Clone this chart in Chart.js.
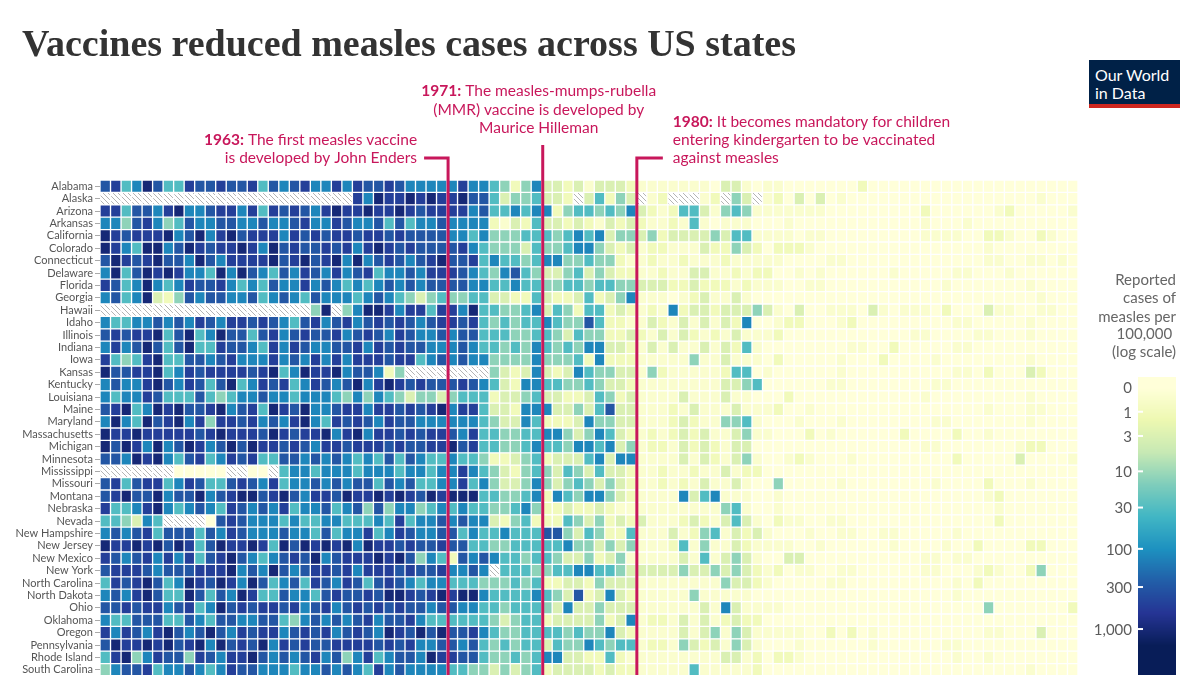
<!DOCTYPE html>
<html>
<head>
<meta charset="utf-8">
<script src="https://cdn.jsdelivr.net/npm/chart.js@4.4.1/dist/chart.umd.min.js"></script>
<style>
  html, body { margin: 0; padding: 0; background: #fff; overflow: hidden; }
  #wrap { position: relative; width: 1200px; height: 675px; overflow: hidden; }
  #chart { position: absolute; left: 0; top: 0; }
  #title {
    position: absolute; left: 22px; top: 22px; white-space: nowrap;
    font-family: "Liberation Serif", serif; font-weight: 700; font-size: 38px;
    color: #333; line-height: 42px;
  }
  #logo {
    position: absolute; left: 1089px; top: 60px; width: 91px; height: 48px;
    box-sizing: border-box; background: #002147; border-bottom: 4px solid #ce261e;
    color: #fff; font-family: Lato, sans-serif; font-size: 16px; line-height: 18px;
    padding: 6px 0 0 6px;
  }
</style>
</head>
<body>
<div id="wrap">
  <canvas id="chart" width="1200" height="676"></canvas>
  <div id="title">Vaccines reduced measles cases across US states</div>
  <div id="logo"><div>Our World</div><div>in Data</div></div>
</div>
<script>
const states = [
  "Alabama", "Alaska", "Arizona", "Arkansas", "California", "Colorado", "Connecticut",
  "Delaware", "Florida", "Georgia", "Hawaii", "Idaho", "Illinois", "Indiana", "Iowa",
  "Kansas", "Kentucky", "Louisiana", "Maine", "Maryland", "Massachusetts", "Michigan",
  "Minnesota", "Mississippi", "Missouri", "Montana", "Nebraska", "Nevada", "New Hampshire",
  "New Jersey", "New Mexico", "New York", "North Carolina", "North Dakota", "Ohio",
  "Oklahoma", "Oregon", "Pennsylvania", "Rhode Island", "South Carolina"
];

const firstYear = 1929;
const lastYear = 2021;
const years = [];
for (let y = firstYear; y <= lastYear; y++) years.push(y);

// reported cases per 100,000 that each code character stands for
const codeRates = [0, 0.3, 1, 3, 12, 30, 120, 300, 500, 1000];

// one character per year (1929 ... 2021); '-' = no data
const rateCodes = [
  "7856975587 7877857678 6686877876 6  6668665424 6332313332 1111111033 1  0110000000 2000000000 0000000000 0",
  "---------- ---------- ----869889 8  9889775344 5332-35243 -12---12-4 3  -120303010 0000000000 0000000100 0",
  "8857768966 7886858787 6898898898 7  8888675565 6624554546 3212553145 4  1111111000 0000002000 0001200000 1",
  "6647864576 6776676678 6687667575 6  6766662132 5332321323 2112151011 1  0001000000 0000001000 1000000000 0",
  "9878889679 6897888687 8788788787 7  7766564445 5545656344 3423333435 5  1111011000 0000001111 0022100210 0",
  "9865996798 7889869787 7878689878 7  7778654443 5445664323 1221113224 3  2022210000 0000000000 0010000000 0",
  "7987897769 7688889789 7896967876 7  8977856554 5664454421 1211211121 1  1110000110 0000000000 0011001101 0",
  "6957989866 5969765768 7686785667 6  8887654675 4334534322 1121133112 1  2200101000 0001000001 1000100000 0",
  "8756965687 7865657668 6765656767 6  7777665565 5445545544 3332232221 2  1110011000 0000000010 0000001000 0",
  "6756932476 7766756765 7666567654 3  4544553322 5322352346 1110123113 1  0000000000 0000000000 0000000100 0",
  "---------- ---------- 49-4699868 8  5886955445 6354255232 1216233233 3  4310300111 0310111020 0031100110 0",
  "6556676768 7688787657 8678678787 6  7887854545 5654475221 1321313132 6  0012200012 0000000001 1000001000 0",
  "7878895795 6977578678 7786787687 6  6767755544 5543544223 2131321213 1  1120000000 0000011000 0110001000 0",
  "6867975795 5877658687 6677868787 7  6667655454 6545466332 1313113132 5  1000000001 1002000001 1000000000 0",
  "8545895577 6786668676 8686888788 5  6767664444 6444526222 1111141131 1  1020000010 0020000100 0000001000 0",
  "9778895687 8888789569 889677624- -  ------4323 6323654433 1421111125 5  0100000010 0000000001 1020003200 0",
  "6766897687 5795687856 8767968987 8  7778765326 6554454332 1111111133 4  5000000110 0000000110 0000000000 0",
  "6566875557 5456676656 6654646543 4  4345552334 5332235423 1111311131 1  0002000000 0000001000 0000001000 0",
  "7895698977 8967859879 6678868878 7  8968853326 6633435733 1112131113 1  1120010000 0000000000 0010001100 0",
  "6965978968 4887867689 6587876877 6  6666654336 5222364433 1112321144 5  1000100010 0000000110 0000001000 0",
  "9889888887 8988879878 8968968878 7  8876855445 5664346532 1212323113 4  1100020100 0000200002 0010000000 0",
  "9798696798 6797988787 6887888787 7  8897855445 6554665634 1221323213 3  0000000000 0000001100 0000012200 0",
  "7769896578 5687855776 7676565757 6  5565542234 5233356366 1111313213 4  1001210001 0000000002 0000030000 1",
  "-------000 00--00-566 5666566656 6  5668654324 5435435332 1121121131 2  2000000000 0000000000 0000000000 0",
  "7857885687 5578768566 7676775767 5  5668564334 6434543432 1121213113 1  0040000010 0000000100 0020001000 0",
  "7897796779 6789978976 8879889898 7  9899955445 6265466432 1111635611 1  0010000000 0000000000 0012000000 0",
  "8556896567 6587676856 6756747466 4  5656554456 4223223211 1111111145 1  0010000000 0000000000 0001000000 0",
  "554365---- 0787666565 5665556585 6  6767663245 2225434232 3111232135 3  1021100110 0000000000 0002000000 0",
  "6767857775 7687666766 5756685687 6  6775655655 5774354225 1113124513 2  3100010011 0011000001 0000000000 0",
  "9889897985 7988985979 8989698878 7  7877554455 5556443434 1112514113 2  1111001000 0001000010 0200002200 0",
  "8767868685 7897656787 9678889897 4  6527676554 5543342341 1111315134 3  1003300000 0000001101 1000000000 0",
  "7888767778 8896769767 8878688878 7  786676-555 4455665543 3333433434 3  2120110011 0000001100 0121002400 0",
  "5878975698 7986975675 8768757876 5  6655544454 5223324333 1111111143 3  2100000110 0000000001 0200000000 0",
  "6768975597 5769855766 5787787998 7  8989965555 6543723632 1111141111 1  0000000000 0000000001 0000000000 0",
  "7787886785 6978788786 7867878787 7  6776655455 5436334333 1111113163 1  1110000000 0000000000 0040000000 2",
  "6557775576 5776677546 7676786778 6  5555554345 5233334236 1221313123 2  2000000000 0000000000 0000000000 0",
  "8687689767 9768788678 7867876987 9  7977865445 5554544632 1111313414 3  1111100202 0100000000 0011000300 0",
  "7988989789 6978796878 7788887878 6  6776754545 5354465455 1221432314 3  1000100000 0100000011 0000000000 0",
  "5894687748 7688976767 8674685677 6  9887754454 5663322521 1111111133 1  2022100000 0000000001 0010000000 0",
  "4677856676 5687766656 6767658676 6  6655443434 5233332322 1111151111 1  2000000000 0000000000 0000001000 0"
].map(r => r.replace(/ /g, ''));

const legendTicks = [0, 1, 3, 10, 30, 100, 300, 1000];
const legendTitle = ["Reported", "cases of", "measles per", "100,000\u00a0", "(log scale)"];

const events = [
  { lineAt: 1962.1, head: "1963:", lines: [" The first measles vaccine", "is developed by John Enders"],
    align: "right", dx: -31, textY: [140, 158], lineTop: 158, arm: -24 },
  { lineAt: 1971.1, head: "1971:", lines: [" The measles-mumps-rubella", "(MMR) vaccine is developed by", "Maurice Hilleman"],
    align: "center", dx: -4, textY: [91, 110, 128], lineTop: 145, arm: 0 },
  { lineAt: 1980.05, head: "1980:", lines: [" It becomes mandatory for children", "entering kindergarten to be vaccinated", "against measles"],
    align: "left", dx: 36, textY: [122, 140, 158], lineTop: 158, arm: 26 }
];

const eventColor = "#c8175b";
const ylgnbu = ["#ffffd9", "#edf8b1", "#c7e9b4", "#7fcdbb", "#41b6c4", "#1d91c0", "#225ea8", "#253494", "#081d58"];

function hexRgb(h) {
  return [1, 3, 5].map(i => parseInt(h.slice(i, i + 2), 16));
}

function rateColor(v) {
  let t = Math.log10(v + 1) / 3.2;
  t = Math.max(0, Math.min(1, t)) * (ylgnbu.length - 1);
  const i = Math.min(Math.floor(t), ylgnbu.length - 2);
  const f = t - i;
  const a = hexRgb(ylgnbu[i]), b = hexRgb(ylgnbu[i + 1]);
  const c = a.map((x, k) => Math.round(x + (b[k] - x) * f));
  return "rgb(" + c.join(",") + ")";
}

function makeHatch(ctx) {
  const c = document.createElement("canvas");
  c.width = 5; c.height = 5;
  const g = c.getContext("2d");
  g.fillStyle = "#fff";
  g.fillRect(0, 0, 5, 5);
  g.strokeStyle = "#b4b4b4";
  g.lineWidth = 1;
  g.beginPath();
  g.moveTo(0, 0); g.lineTo(5, 5);
  g.moveTo(-1, 4); g.lineTo(1, 6);
  g.moveTo(4, -1); g.lineTo(6, 1);
  g.stroke();
  return ctx.createPattern(c, "repeat");
}

const canvas = document.getElementById("chart");
const ctx = canvas.getContext("2d");
const hatch = makeHatch(ctx);

const datasets = years.map((year, j) => ({
  data: states.map(() => [year, year + 1]),
  backgroundColor: rateCodes.map(row => {
    const c = row[j];
    return (c === undefined || c === "-") ? hatch : rateColor(codeRates[+c]);
  }),
  borderColor: "#ffffff",
  borderWidth: 1,
  borderSkipped: false,
  barPercentage: 1,
  categoryPercentage: 1,
  grouped: false
}));

function drawParts(c, parts, x, y, align) {
  let total = 0;
  parts.forEach(p => {
    c.font = (p.bold ? "bold " : "") + "15.5px Lato";
    p.w = c.measureText(p.text).width;
    total += p.w;
  });
  let start = align === "right" ? x - total : align === "center" ? x - total / 2 : x;
  parts.forEach(p => {
    c.font = (p.bold ? "bold " : "") + "15.5px Lato";
    c.fillText(p.text, start, y);
    start += p.w;
  });
}

const eventsPlugin = {
  id: "events",
  afterDatasetsDraw(chart) {
    const c = chart.ctx;
    const x = chart.scales.x;
    c.save();
    c.strokeStyle = eventColor;
    c.fillStyle = eventColor;
    c.lineWidth = 3;
    c.textBaseline = "middle";
    c.textAlign = "left";
    events.forEach(ev => {
      const lx = x.getPixelForValue(ev.lineAt);
      c.beginPath();
      c.moveTo(lx + ev.arm, ev.lineTop);
      c.lineTo(lx, ev.lineTop);
      c.lineTo(lx, chart.height + 5);
      c.stroke();
      ev.lines.forEach((line, i) => {
        const parts = i === 0 ? [{ text: ev.head, bold: true }, { text: line }] : [{ text: line }];
        drawParts(c, parts, lx + ev.dx, ev.textY[i], ev.align);
      });
    });
    c.restore();
  }
};

const legendPlugin = {
  id: "colorKey",
  afterDraw(chart) {
    const c = chart.ctx;
    const bx = 1138, bw = 38, top = 377, zeroY = 387.5, perDecade = 80.5;
    c.save();
    for (let y = top; y < chart.height; y++) {
      const v = y <= zeroY ? 0 : Math.pow(10, (y - zeroY) / perDecade) - 1;
      c.fillStyle = rateColor(v);
      c.fillRect(bx, y, bw, 1.5);
    }
    c.font = "15px Lato";
    c.textAlign = "right";
    c.textBaseline = "middle";
    legendTicks.forEach(v => {
      const y = zeroY + perDecade * Math.log10(v + 1);
      if (v > 0) {
        c.fillStyle = "#fff";
        c.fillRect(bx, y - 1, 5, 2);
      }
      c.fillStyle = "#5b5b5b";
      c.fillText(v.toLocaleString("en-US"), bx - 6, y + 1);
    });
    c.fillStyle = "#666";
    const ty = [280, 298, 317, 334, 352];
    legendTitle.forEach((t, i) => c.fillText(t, bx + bw, ty[i]));
    c.restore();
  }
};

new Chart(ctx, {
  type: "bar",
  data: { labels: states, datasets: datasets },
  options: {
    indexAxis: "y",
    responsive: false,
    animation: false,
    layout: { padding: { top: 180, right: 122, bottom: 0, left: 0 } },
    plugins: { legend: { display: false }, tooltip: { enabled: false } },
    scales: {
      x: { type: "linear", min: firstYear, max: lastYear + 1, display: false },
      y: {
        type: "category",
        offset: true,
        border: { display: false },
        grid: { drawOnChartArea: false, drawTicks: true, tickLength: 5, color: "#aaa", offset: false },
        ticks: { font: { family: "Lato", size: 11 }, color: "#555", padding: 2, autoSkip: false },
        afterFit(scale) {
          scale.width = 100;
          scale.paddingTop = 0;
          scale.paddingBottom = 0;
        }
      }
    }
  },
  plugins: [eventsPlugin, legendPlugin]
});
</script>
</body>
</html>
